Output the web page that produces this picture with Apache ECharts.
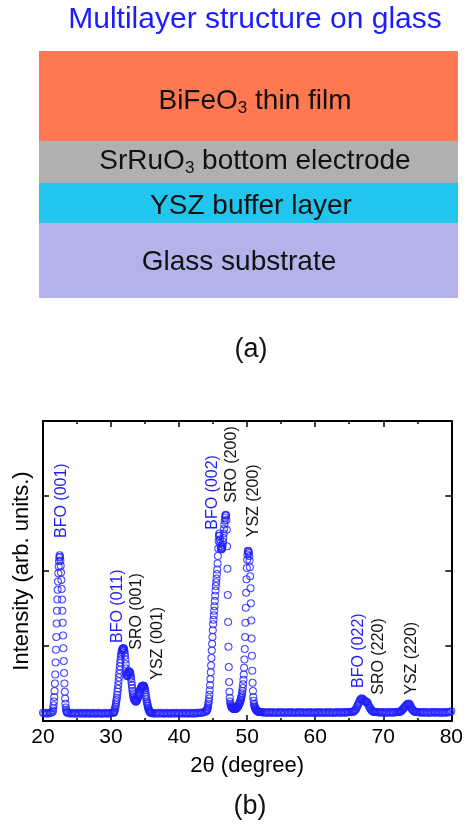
<!DOCTYPE html>
<html>
<head>
<meta charset="utf-8">
<script src="https://cdn.jsdelivr.net/npm/echarts@6/dist/echarts.min.js"></script>
<style>
  html, body { margin: 0; padding: 0; background: #fff; }
  #chart { width: 466px; height: 824px; }
</style>
</head>
<body>
<div id="chart"></div>
<script>
// XRD scan. Each segment: [start 2θ, step, intensities]
const bg1 = [20.0, 0.2, [0.11, 0.10, 0.11, 0.10, 0.10, 0.11, 0.11]]
const peak001 = [21.4, 0.05, [
  0.12, 0.14, 0.17, 0.21, 0.26, 0.32, 0.40, 0.50, 0.62, 0.78,
  0.95, 1.12, 1.30, 1.47, 1.62, 1.75, 1.86, 1.97, 2.06, 2.13,
  2.18, 2.21, 2.19, 2.14, 2.07, 1.98, 1.88, 1.76, 1.62, 1.47,
  1.31, 1.14, 0.97, 0.80, 0.64, 0.50, 0.39, 0.30, 0.23, 0.18,
  0.15, 0.13, 0.12, 0.11]]
const bg2 = [23.7, 0.2, [
  0.11, 0.10, 0.10, 0.11, 0.10, 0.10, 0.10, 0.11, 0.10, 0.10,
  0.11, 0.10, 0.10, 0.10, 0.11, 0.10, 0.10, 0.10, 0.11, 0.10,
  0.10, 0.10, 0.11, 0.10, 0.10, 0.10, 0.10, 0.11, 0.10, 0.10,
  0.10, 0.11, 0.11, 0.11]]
const peak011 = [30.4, 0.05, [
  0.11, 0.12, 0.13, 0.15, 0.17, 0.19, 0.22, 0.25, 0.28, 0.31,
  0.35, 0.39, 0.43, 0.48, 0.53, 0.58, 0.63, 0.68, 0.73, 0.78,
  0.82, 0.86, 0.89, 0.92, 0.94, 0.95, 0.96, 0.97, 0.97, 0.97,
  0.96, 0.94, 0.91, 0.87, 0.82, 0.76, 0.70, 0.65, 0.62, 0.60,
  0.60, 0.61, 0.63, 0.65, 0.66, 0.66, 0.66, 0.65, 0.64, 0.62,
  0.59, 0.56, 0.52, 0.48, 0.44, 0.40, 0.37, 0.34, 0.32, 0.30,
  0.29, 0.28, 0.28, 0.27, 0.26, 0.26, 0.26, 0.27, 0.28, 0.29,
  0.30, 0.32, 0.33, 0.35, 0.36, 0.38, 0.39, 0.41, 0.42, 0.43,
  0.44, 0.45, 0.46, 0.46, 0.47, 0.47, 0.47, 0.47, 0.47, 0.46,
  0.45, 0.43, 0.41, 0.38, 0.35, 0.32, 0.29, 0.26, 0.24, 0.22,
  0.20, 0.18, 0.16, 0.15, 0.14, 0.13, 0.12, 0.12, 0.11, 0.11,
  0.11]]
const bg3 = [36.0, 0.2, [
  0.11, 0.10, 0.10, 0.10, 0.11, 0.10, 0.10, 0.11, 0.10, 0.10,
  0.10, 0.11, 0.10, 0.10, 0.10, 0.11, 0.10, 0.10, 0.11, 0.10,
  0.10, 0.10, 0.11, 0.10, 0.10, 0.11, 0.10, 0.10, 0.10, 0.11,
  0.10, 0.10, 0.11, 0.10, 0.11, 0.11, 0.11, 0.11, 0.12, 0.12]]
const peak002 = [44.0, 0.05, [
  0.13, 0.14, 0.15, 0.16, 0.18, 0.20, 0.23, 0.26, 0.30, 0.35,
  0.41, 0.48, 0.56, 0.65, 0.74, 0.84, 0.94, 1.03, 1.12, 1.21,
  1.29, 1.35, 1.41, 1.47, 1.53, 1.60, 1.67, 1.74, 1.80, 1.85,
  1.90, 1.96, 2.02, 2.10, 2.20, 2.30, 2.40, 2.47, 2.50, 2.47,
  2.42, 2.37, 2.33, 2.30, 2.29, 2.29, 2.30, 2.32, 2.35, 2.39,
  2.44, 2.50, 2.56, 2.62, 2.67, 2.71, 2.74, 2.75, 2.74, 2.68,
  2.55, 2.33, 2.03, 1.68, 1.32, 0.99, 0.72, 0.52, 0.39, 0.31,
  0.26, 0.23, 0.21, 0.20, 0.19, 0.18, 0.18, 0.17, 0.17, 0.17,
  0.16, 0.16, 0.16, 0.16, 0.16, 0.16, 0.16, 0.17, 0.17, 0.17,
  0.18, 0.18, 0.19, 0.19, 0.20, 0.21, 0.22, 0.23, 0.24, 0.25,
  0.27, 0.28, 0.30, 0.32, 0.34, 0.37, 0.40, 0.44, 0.49, 0.55,
  0.62, 0.71, 0.82, 0.96, 1.12, 1.31, 1.51, 1.71, 1.89, 2.04,
  2.15, 2.22, 2.26, 2.27, 2.26, 2.24, 2.20, 2.14, 2.05, 1.93,
  1.77, 1.57, 1.34, 1.10, 0.87, 0.67, 0.51, 0.40, 0.32, 0.27,
  0.23, 0.21, 0.19, 0.18, 0.17, 0.16, 0.15, 0.15, 0.14, 0.14,
  0.13, 0.13, 0.13, 0.13, 0.12, 0.12, 0.12, 0.12, 0.12, 0.12]]
const bg4 = [52.0, 0.2, [
  0.12, 0.12, 0.11, 0.12, 0.11, 0.11, 0.12, 0.11, 0.11, 0.12,
  0.11, 0.11, 0.11, 0.12, 0.11, 0.11, 0.12, 0.11, 0.11, 0.11,
  0.12, 0.11, 0.11, 0.12, 0.11, 0.11, 0.11, 0.12, 0.11, 0.11,
  0.12, 0.11, 0.11, 0.11, 0.12, 0.11, 0.11, 0.12, 0.11, 0.11,
  0.11, 0.12, 0.11, 0.11, 0.12, 0.11, 0.11, 0.11, 0.12, 0.11,
  0.11, 0.12, 0.11, 0.11, 0.11, 0.12, 0.11, 0.12, 0.11, 0.11,
  0.12, 0.11, 0.12, 0.11, 0.12, 0.12, 0.12, 0.12]]
const peak022 = [65.5, 0.1, [
  0.12, 0.13, 0.13, 0.14, 0.15, 0.16, 0.18, 0.20, 0.22, 0.24,
  0.26, 0.28, 0.29, 0.30, 0.30, 0.29, 0.28, 0.27, 0.26, 0.26,
  0.26, 0.25, 0.24, 0.22, 0.20, 0.18, 0.17, 0.15, 0.14, 0.13,
  0.13, 0.12, 0.12, 0.12, 0.12, 0.12]]
const bg5 = [69.2, 0.2, [
  0.12, 0.11, 0.12, 0.11, 0.12, 0.11, 0.11, 0.12, 0.11, 0.12,
  0.11, 0.12, 0.11, 0.12, 0.12, 0.12]]
const peak220 = [72.3, 0.1, [
  0.12, 0.12, 0.13, 0.13, 0.14, 0.15, 0.16, 0.17, 0.18, 0.19,
  0.20, 0.21, 0.22, 0.23, 0.23, 0.23, 0.22, 0.20, 0.18, 0.16,
  0.15, 0.14, 0.13, 0.13, 0.12, 0.12, 0.12, 0.12]]
const bg6 = [75.2, 0.2, [
  0.12, 0.11, 0.12, 0.11, 0.12, 0.11, 0.12, 0.11, 0.11, 0.12,
  0.11, 0.12, 0.11, 0.12, 0.11, 0.12, 0.11, 0.11, 0.12, 0.11,
  0.12, 0.11, 0.12, 0.12, 0.13]]

// peak labels, anchored (bottom of the rotated text) in data units
const peakNames = ['BFO (001)', 'BFO (011)', 'SRO (001)', 'YSZ (001)', 'BFO (002)',
  'SRO (200)', 'YSZ (200)', 'BFO (022)', 'SRO (220)', 'YSZ (220)']
const peakIsBFO = [true, true, false, false, true, false, false, true, false, false]
const peakAnchor = [[22.74, 2.44], [31.02, 1.04], [33.72, 0.95], [36.88, 0.55], [44.93, 2.55],
  [47.67, 2.91], [50.97, 2.45], [66.34, 0.44], [69.27, 0.35], [74.1, 0.35]]

const layerNames = ['BiFeO{s|3} thin film', 'SrRuO{s|3} bottom electrode', 'YSZ buffer layer', 'Glass substrate']
const layerColors = ['#ff7852', '#b0b0b0', '#22c5ee', '#b3b3eb']

const segments = [bg1, peak001, bg2, peak011, bg3, peak002, bg4, peak022, bg5, peak220, bg6]
const scan = []
segments.forEach(function (seg) {
  seg[2].forEach(function (v, i) {
    scan.push([+(seg[0] + i * seg[1]).toFixed(3), v])
  })
})

const FONT = 'Liberation Sans, Arial, sans-serif'
const BLUE = '#1c1cff'

let myChart = echarts.init(document.getElementById('chart'))

const axisLine = { show: true, onZero: false, lineStyle: { color: '#000', width: 2 } }
const tick = { show: true, inside: true, length: 6, lineStyle: { color: '#000', width: 1.5 } }
const minor = { show: true, splitNumber: 2, length: 3, lineStyle: { color: '#000', width: 1.5 } }

myChart.setOption({
  animation: false,
  backgroundColor: '#fff',
  grid: { left: 43, right: 13, top: 421, bottom: 103 },
  xAxis: [{
    type: 'value', min: 20, max: 80, interval: 10, position: 'bottom',
    axisLine: axisLine, axisTick: tick, minorTick: minor,
    splitLine: { show: false },
    axisLabel: { fontSize: 21, color: '#000', margin: 6, fontFamily: FONT },
    name: '2θ (degree)', nameLocation: 'middle', nameGap: 34,
    nameTextStyle: { fontSize: 22, color: '#000', fontFamily: FONT }
  }, {
    type: 'value', min: 20, max: 80, interval: 10, position: 'top',
    axisLine: axisLine, axisTick: tick, minorTick: minor,
    splitLine: { show: false }, axisLabel: { show: false }
  }],
  yAxis: [{
    type: 'value', min: 0, max: 4, interval: 1, position: 'left',
    axisLine: axisLine, axisTick: tick,
    splitLine: { show: false }, axisLabel: { show: false },
    name: 'Intensity (arb. units.)', nameLocation: 'middle', nameGap: 10,
    nameTextStyle: { fontSize: 22, color: '#000', fontFamily: FONT }
  }, {
    type: 'value', min: 0, max: 4, interval: 1, position: 'right',
    axisLine: axisLine, axisTick: tick,
    splitLine: { show: false }, axisLabel: { show: false }
  }],
  series: [{
    type: 'scatter',
    xAxisIndex: 0,
    yAxisIndex: 0,
    symbol: 'circle',
    symbolSize: 7,
    large: false,
    itemStyle: { color: 'rgba(0,0,0,0)', borderColor: '#2020ff', borderWidth: 1.1 },
    data: scan
  }]
})

// layer diagram (a)
const layerTop = [51, 141, 183, 223]
const layerH = [90, 42, 40, 75]
const layerTextX = [255, 255, 251, 239]
const layerTextY = [101, 161, 206, 262]
let graphic = []
layerNames.forEach(function (name, i) {
  graphic.push({
    type: 'rect', shape: { x: 39, y: layerTop[i], width: 419, height: layerH[i] },
    style: { fill: layerColors[i] }
  })
  graphic.push({
    type: 'text', x: layerTextX[i], y: layerTextY[i],
    style: {
      text: name, fill: '#111', fontSize: 28, fontFamily: FONT, lineHeight: 32,
      align: 'center', verticalAlign: 'middle',
      rich: { s: { fontSize: 17, fontFamily: FONT, lineHeight: 17, verticalAlign: 'bottom', fill: '#111' } }
    }
  })
})
graphic.push({
  type: 'text', x: 255, y: 20,
  style: { text: 'Multilayer structure on glass', fill: BLUE, fontSize: 30, fontFamily: FONT, align: 'center', verticalAlign: 'middle' }
})
graphic.push({
  type: 'text', x: 251, y: 350,
  style: { text: '(a)', fill: '#111', fontSize: 27, fontFamily: FONT, align: 'center', verticalAlign: 'middle' }
})
graphic.push({
  type: 'text', x: 250, y: 807,
  style: { text: '(b)', fill: '#111', fontSize: 27, fontFamily: FONT, align: 'center', verticalAlign: 'middle' }
})

// rotated peak labels
peakNames.forEach(function (name, i) {
  let p = myChart.convertToPixel({ seriesIndex: 0 }, peakAnchor[i])
  graphic.push({
    type: 'text', x: p[0], y: p[1], rotation: Math.PI / 2,
    style: {
      text: name, fill: peakIsBFO[i] ? BLUE : '#111', fontSize: 16, fontFamily: FONT,
      align: 'left', verticalAlign: 'middle'
    }
  })
})

myChart.setOption({ graphic: graphic })
</script>
</body>
</html>
